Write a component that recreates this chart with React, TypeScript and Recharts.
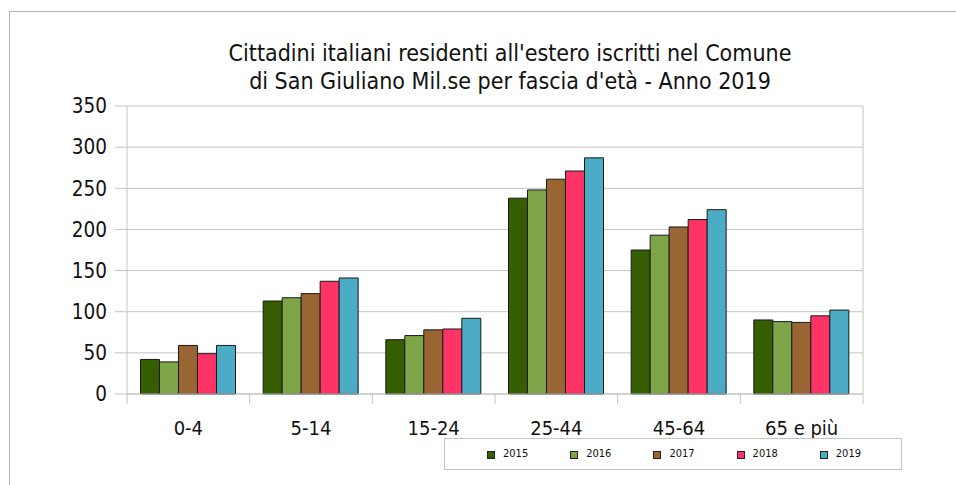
import { Bar, BarChart, CartesianGrid, Legend, XAxis, YAxis } from "recharts";

// Age bands and residents abroad per year
const AGE_BANDS = ["0-4", "5-14", "15-24", "25-44", "45-64", "65 e più"];
const YEARS = ["2015", "2016", "2017", "2018", "2019"];
const V2015 = [42, 113, 66, 238, 175, 90];
const V2016 = [39, 117, 71, 248, 193, 88];
const V2017 = [59, 122, 78, 261, 203, 87];
const V2018 = [49, 137, 79, 271, 212, 95];
const V2019 = [59, 141, 92, 287, 224, 102];
const Y_TICKS = [0, 50, 100, 150, 200, 250, 300, 350];
const TITLE = [
  "Cittadini italiani residenti all'estero iscritti nel Comune",
  "di San Giuliano Mil.se per fascia d'età - Anno 2019",
];

const COLORS = ["#355e00", "#7ea548", "#996633", "#ff3366", "#4bacc6"];
const SERIES = [V2015, V2016, V2017, V2018, V2019];

const W = 956;
const H = 485;
const PLOT_LEFT = 127;
const PLOT_RIGHT = 863;
const PLOT_TOP = 106;
const PLOT_BOTTOM = 394;
const X_AXIS_H = 30;
const Y_AXIS_W = 60;
const BAND = (PLOT_RIGHT - PLOT_LEFT) / AGE_BANDS.length;
const GRID = "#c3c3c3";
const FONT = "'DejaVu Sans Condensed', 'DejaVu Sans', sans-serif";

type Row = { band: string } & Record<string, string | number>;

const rows: Row[] = AGE_BANDS.map((band, i) => {
  const row: Row = { band };
  YEARS.forEach((y, k) => {
    row[y] = SERIES[k][i];
  });
  return row;
});

function CategoryTick(props: any) {
  const { x, payload, index } = props;
  const left = x - BAND / 2;
  const last = index === AGE_BANDS.length - 1;
  return (
    <g>
      <line x1={left} x2={left} y1={PLOT_BOTTOM} y2={PLOT_BOTTOM + 10} stroke={GRID} />
      {last && (
        <line x1={x + BAND / 2} x2={x + BAND / 2} y1={PLOT_TOP} y2={PLOT_BOTTOM + 10} stroke={GRID} />
      )}
      <text x={x} y={435} textAnchor="middle" fontSize={20} fill="#111" fontFamily={FONT}>
        {payload.value}
      </text>
    </g>
  );
}

function LegendBox() {
  return (
    <div
      style={{
        width: 458,
        height: 32,
        boxSizing: "border-box",
        border: `1px solid ${GRID}`,
        position: "relative",
        fontFamily: FONT,
        fontSize: 11,
        color: "#111",
      }}
    >
      {YEARS.map((y, i) => (
        <div key={y} style={{ position: "absolute", left: 42 + i * 83.2, top: 11, height: 10 }}>
          <span
            style={{
              position: "absolute",
              left: 0,
              top: 1,
              width: 8,
              height: 8,
              boxSizing: "border-box",
              background: COLORS[i],
              border: "1px solid #222",
            }}
          />
          <span style={{ position: "absolute", left: 16, top: -3, lineHeight: "14px", whiteSpace: "nowrap" }}>
            {y}
          </span>
        </div>
      ))}
    </div>
  );
}

export default function App() {
  return (
    <div
      style={{
        position: "fixed",
        left: 0,
        top: 0,
        width: W,
        height: H,
        overflow: "hidden",
        background: "#fff",
        fontFamily: FONT,
      }}
    >
      <div
        style={{
          position: "absolute",
          left: 9,
          top: 11,
          width: 2000,
          height: 2000,
          border: "1px solid #b3b3b3",
        }}
      />
      <BarChart
        width={W}
        height={H}
        data={rows}
        margin={{
          top: PLOT_TOP,
          right: W - PLOT_RIGHT,
          bottom: H - PLOT_BOTTOM - X_AXIS_H,
          left: PLOT_LEFT - Y_AXIS_W,
        }}
        barGap={0}
        barCategoryGap="11%"
        style={{ position: "absolute", left: 0, top: 0 }}
      >
        <CartesianGrid vertical={false} stroke={GRID} />
        <XAxis
          dataKey="band"
          height={X_AXIS_H}
          axisLine={{ stroke: GRID }}
          tickLine={false}
          tick={<CategoryTick />}
          interval={0}
        />
        <YAxis
          width={Y_AXIS_W}
          domain={[0, 350]}
          ticks={Y_TICKS}
          tickSize={12}
          tickMargin={8}
          axisLine={{ stroke: GRID }}
          tickLine={{ stroke: GRID }}
          tick={{ fontSize: 20.5, fill: "#111", fontFamily: FONT }}
        />
        {YEARS.map((y, i) => (
          <Bar
            key={y}
            dataKey={y}
            fill={COLORS[i]}
            stroke="#1a1a1a"
            strokeWidth={1}
            isAnimationActive={false}
          />
        ))}
        <Legend
          layout="horizontal"
          verticalAlign="middle"
          align="center"
          wrapperStyle={{ left: 444, top: 438, width: 458, height: 32 }}
          content={<LegendBox />}
        />
      </BarChart>
      <svg width={W} height={110} style={{ position: "absolute", left: 0, top: 0 }}>
        {TITLE.map((line, i) => (
          <text
            key={i}
            x={510}
            y={61 + i * 28}
            textAnchor="middle"
            fontSize={23}
            fill="#111"
            fontFamily={FONT}
          >
            {line}
          </text>
        ))}
      </svg>
    </div>
  );
}
